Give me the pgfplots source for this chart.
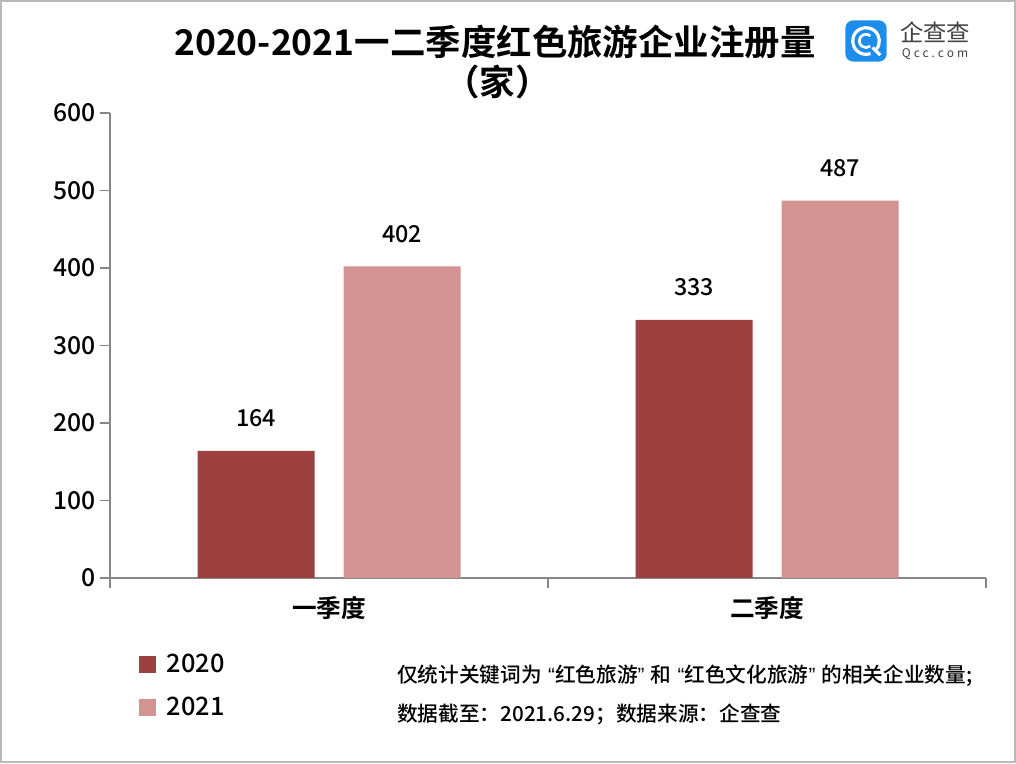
\documentclass[border=0pt]{standalone}
\usepackage{fontspec}
\setmainfont{Noto Sans CJK SC}[BoldFont={Noto Sans CJK SC Bold}]
\newfontfamily\medfont{Noto Sans CJK SC Medium}
\newfontfamily\qfont{Liberation Sans}
\usepackage{pgfplots}
\pgfplotsset{compat=1.18}
\definecolor{c2020}{RGB}{157,65,64}
\definecolor{c2021}{RGB}{210,147,146}
\definecolor{axgray}{RGB}{135,135,135}
\definecolor{qblue}{RGB}{30,140,235}
\newcommand{\myLq}{\hspace{0.3em}{\qfont “}}
\newcommand{\myRq}{{\qfont ”}\hspace{0.3em}}
\begin{document}
\begin{tikzpicture}
\useasboundingbox (0,0) rectangle (762pt,572.25pt);
\draw[gray!55, line width=1.5pt] (0.75pt,0.75pt) rectangle (761.25pt,571.5pt);
\begin{axis}[
 at={(82.5pt,138.75pt)}, anchor=south west,
 scale only axis, width=657pt, height=348.75pt,
 ybar=21.75pt, bar width=87.75pt,
 xmin=-0.5, xmax=1.5, ymin=0, ymax=600,
 axis x line=bottom, axis y line=left,
 axis line style={-, draw=axgray, line width=1.2pt},
 xtick={0,1}, xticklabels={一季度,二季度},
 minor xtick={-0.5,0.5,1.5},
 ytick={0,100,...,600},
 tick align=outside, major tick length=7.5pt, minor tick length=7.5pt,
 every tick/.style={axgray, line width=1.2pt},
 major x tick style={draw=none},
 /pgf/number format/assume math mode=true,
 yticklabel style={font=\medfont\fontsize{18.5}{18.5}\selectfont, color=black},
 xticklabel style={font=\bfseries\fontsize{18.5}{18.5}\selectfont, color=black, yshift=-3pt},
 nodes near coords,
 nodes near coords style={font=\medfont\fontsize{17.5}{17.5}\selectfont, yshift=14.5pt, black},
 legend style={font=\medfont\fontsize{19}{19}\selectfont, draw=none, fill=none,
   at={(rel axis cs:0.033,-0.158)}, anchor=north west, row sep=12.5pt, inner sep=0pt},
 legend cell align=left,
 legend image code/.code={\fill[#1] (0pt,-6.4pt) rectangle (12.75pt,6.4pt); \path (18.75pt,0pt);},
 clip=false,
]
\addplot[fill=c2020, draw=none] coordinates {(0,164) (1,333)};
\addplot[fill=c2021, draw=none] coordinates {(0,402) (1,487)};
\legend{2020,2021}
\end{axis}
\node[font=\bfseries\fontsize{26.6}{26.6}\selectfont] at (371.25pt,540.75pt) {2020-2021一二季度红色旅游企业注册量};
\node[font=\bfseries\fontsize{26.6}{26.6}\selectfont] at (373pt,510.75pt) {（家）};
\node[anchor=west, inner sep=0pt, font=\medfont\fontsize{15.5}{15.5}\selectfont] at (297.75pt,65.25pt) {仅统计关键词为\myLq 红色旅游\myRq 和\myLq 红色文化旅游\myRq 的相关企业数量;};
\node[anchor=west, inner sep=0pt, font=\medfont\fontsize{15.5}{15.5}\selectfont] at (297.75pt,36.75pt) {数据截至：2021.6.29；数据来源：企查查};
% logo
\fill[qblue, rounded corners=6pt] (634pt,526pt) rectangle (665pt,557pt);
\draw[white, line width=2.4pt] ([shift={(649.5pt,541.5pt)}]-40:10pt) arc[start angle=-40, end angle=290, radius=10pt];
\draw[white, line width=2.4pt] ([shift={(649.5pt,541.5pt)}]-45:7pt) -- ([shift={(649.5pt,541.5pt)}]-45:15pt);
\draw[white, line width=2pt] ([shift={(649.5pt,541.5pt)}]50:5pt) arc[start angle=50, end angle=310, radius=5pt];
\node[font=\fontsize{17.5}{17.5}\selectfont, text=black!75] at (701.25pt,548pt) {企查查};
\node[font=\fontsize{9}{9}\selectfont\addfontfeatures{LetterSpace=25}, text=black!75] at (701.25pt,531.5pt) {Qcc.com};
\end{tikzpicture}
\end{document}
